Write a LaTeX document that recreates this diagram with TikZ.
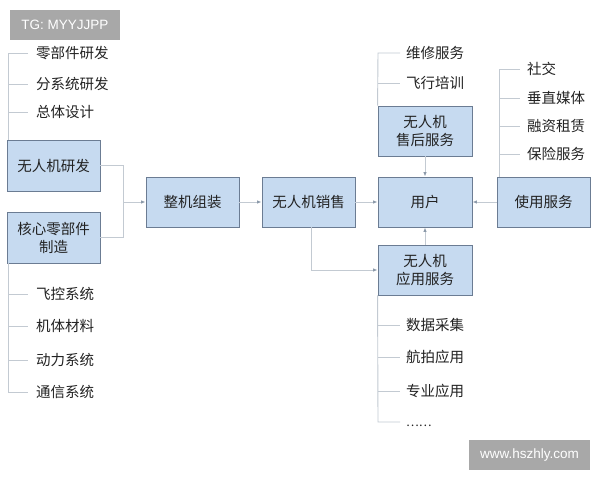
\documentclass[tikz,border=0pt]{standalone}
\usepackage{fontspec}
\setmainfont{Noto Sans CJK SC}
\newfontfamily\latinsans{Liberation Sans}
\usetikzlibrary{arrows.meta,calc}
\definecolor{boxfill}{HTML}{C6DAF0}
\definecolor{boxline}{HTML}{6B7C93}
\definecolor{conn}{HTML}{C3CAD2}
\definecolor{tipc}{HTML}{8C9AAA}
\definecolor{txt}{HTML}{222222}
\definecolor{tag}{HTML}{A8A8A8}
\begin{document}
\begin{tikzpicture}[x=1pt,y=-1pt,
  blk/.style={draw=boxline, line width=0.9pt, fill=boxfill, minimum width=93pt, minimum height=50pt,
    inner sep=0pt, align=center, text=txt, font=\fontsize{14.5}{18}\selectfont},
  lbl/.style={anchor=west, inner sep=0pt, text=txt, font=\fontsize{14.5}{18}\selectfont},
  ln/.style={draw=conn, line width=0.9pt},
  arr/.style={ln, -{Latex[length=4.5pt,width=3.5pt,color=tipc]}},
  tagbox/.style={fill=tag, text=white, inner sep=0pt, font=\latinsans\fontsize{13.5}{16}\selectfont}
]
\useasboundingbox (0,0) rectangle (600,480);
\fill[white] (0,0) rectangle (600,480);

% tag boxes
\node[tagbox, minimum width=110pt, minimum height=30pt] (tg) at (65,25) {TG: MYYJJPP};
\node[tagbox, minimum width=121pt, minimum height=30pt] (web) at (529.5,455) {www.hszhly.com};

% main blocks
\node[blk, minimum height=51pt] (rd) at (53.5,165.5) {无人机研发};
\node[blk, minimum height=51pt] (hx) at (53.5,237.5) {核心零部件\\制造};
\node[blk] (zj) at (192.5,202) {整机组装};
\node[blk] (xs) at (308.5,202) {无人机销售};
\node[blk, minimum width=94pt] (yh) at (425,202) {用户};
\node[blk] (sy) at (543.5,202) {使用服务};
\node[blk, minimum width=94pt] (sh) at (425,131) {无人机\\售后服务};
\node[blk, minimum width=94pt] (yy) at (425,270) {无人机\\应用服务};

% connectors
\coordinate (j) at (123,202);
\draw[ln] (rd.east) -- (rd.east -| j) -- (hx.east -| j) -- (hx.east);
\draw[arr] (j) -- (zj.west);
\draw[arr] (zj.east) -- (xs.west);
\draw[arr] (xs.east) -- (yh.west);
\draw[arr] (sy.west) -- (yh.east);
\draw[arr] (sh.south) -- (yh.north);
\draw[arr] (yy.north) -- (yh.south);
\draw[arr] ([xshift=3pt]xs.south) |- (yy.west);

% left top tree
\node[lbl] (a1) at (36,53) {零部件研发};
\node[lbl] (a2) at (36,84) {分系统研发};
\node[lbl] (a3) at (36,112) {总体设计};
\coordinate (at) at (8,53);
\draw[ln] (a1.west -| 28,0) -- (at) -- (at |- rd.north);
\draw[ln] (8,84) -- (a2.west -| 28,0);
\draw[ln] (8,112) -- (a3.west -| 28,0);

% left bottom tree
\node[lbl] (b1) at (36,294) {飞控系统};
\node[lbl] (b2) at (36,326) {机体材料};
\node[lbl] (b3) at (36,360) {动力系统};
\node[lbl] (b4) at (36,392) {通信系统};
\draw[ln] (8,263) -- (8,392) -- (b4.west -| 28,0);
\draw[ln] (8,294) -- (b1.west -| 28,0);
\draw[ln] (8,326) -- (b2.west -| 28,0);
\draw[ln] (8,360) -- (b3.west -| 28,0);

% after-sales tree
\node[lbl] (c1) at (406,53) {维修服务};
\node[lbl] (c2) at (406,83) {飞行培训};
\draw[ln] (c1.west -| 400,0) -- (378,53) -- (sh.north west);
\draw[ln] (378,83) -- (c2.west -| 400,0);

% usage services tree
\node[lbl] (d1) at (527,69) {社交};
\node[lbl] (d2) at (527,98) {垂直媒体};
\node[lbl] (d3) at (527,126) {融资租赁};
\node[lbl] (d4) at (527,154) {保险服务};
\draw[ln] (d1.west -| 520,0) -- (499,69) -- (499,177);
\draw[ln] (499,98) -- (d2.west -| 520,0);
\draw[ln] (499,126) -- (d3.west -| 520,0);
\draw[ln] (499,154) -- (d4.west -| 520,0);

% application tree
\node[lbl] (e1) at (406,325) {数据采集};
\node[lbl] (e2) at (406,357) {航拍应用};
\node[lbl] (e3) at (406,391) {专业应用};
\node[lbl, font=\fontsize{12}{14}\selectfont] (e4) at (406,426) {……};
\draw[ln] (yy.south west) -- (378,422) -- (400,422);
\draw[ln] (378,325) -- (e1.west -| 400,0);
\draw[ln] (378,357) -- (e2.west -| 400,0);
\draw[ln] (378,391) -- (e3.west -| 400,0);
\end{tikzpicture}
\end{document}
